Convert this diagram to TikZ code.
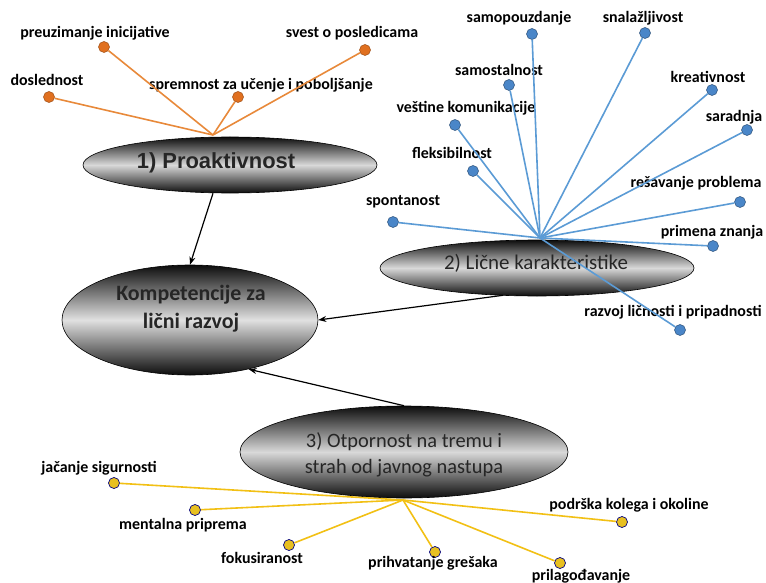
\documentclass[tikz,border=0pt]{standalone}
\usepackage{fontspec}
\setmainfont{Carlito}
\newfontfamily\arialb{Liberation Sans}
\usetikzlibrary{shapes.geometric,arrows.meta}
\definecolor{orln}{HTML}{E8893A}
\definecolor{ordot}{HTML}{E07020}
\definecolor{blln}{HTML}{5B9BD5}
\definecolor{bldot}{HTML}{4A86C8}
\definecolor{yeln}{HTML}{F2C014}
\definecolor{yedot}{HTML}{E8C020}
\tikzset{
  bigell/.style={ellipse, draw=black, line width=0.6pt, top color=black!95, bottom color=black!95, middle color=black!15, inner sep=0pt},
  lbl/.style={font=\bfseries\fontsize{16}{16}\selectfont, inner sep=0pt},
  odot/.style={circle, fill=ordot, draw=ordot!70!black, line width=0.5pt, minimum size=11bp, inner sep=0pt},
  bdot/.style={circle, fill=bldot, draw=bldot!60!black, line width=0.5pt, minimum size=11bp, inner sep=0pt},
  ydot/.style={circle, fill=yedot, draw=blue!50!black, line width=0.7pt, minimum size=11bp, inner sep=0pt},
  oline/.style={draw=orln, line width=1.6pt},
  bline/.style={draw=blln, line width=1.6pt},
  yline/.style={draw=yeln, line width=1.6pt},
  arr/.style={draw=black, line width=1.2pt, -{Stealth[length=8bp,width=6bp]}}
}
\begin{document}
\begin{tikzpicture}[x=1bp,y=-1bp]
\useasboundingbox[fill=white] (0,0) rectangle (766,583);
% big ellipses
\node[bigell, minimum width=294bp, minimum height=56bp] (pro) at (230,165) {};
\node[font=\arialb\bfseries\fontsize{22}{22}\selectfont, text=black!85] at (216,163) {1) Proaktivnost};
\node[bigell, minimum width=314bp, minimum height=56bp] (lic) at (537,268) {};
\node[font=\fontsize{21}{21}\selectfont, text=black!85] at (536,263) {2) Lične karakteristike};
\node[bigell, minimum width=256bp, minimum height=110bp, middle color=black!12] (kom) at (190,320) {};
\node[font=\bfseries\fontsize{22}{28}\selectfont, text=black!85, align=center] at (191,309) {Kompetencije za\\lični razvoj};
\node[bigell, minimum width=328bp, minimum height=92bp] (otp) at (404,452) {};
\node[font=\fontsize{20.5}{26}\selectfont, text=black!85, align=center] at (404,455) {3) Otpornost na tremu i\\strah od javnog nastupa};
% hubs
\coordinate (oh) at (213,135);
\coordinate (bh) at (540,238);
\coordinate (yh) at (403,500);
% orange leaves
\node[odot] (o1) at (104,47) {};
\node[lbl] at (95,33) {preuzimanje inicijative};
\node[odot] (o2) at (49,97) {};
\node[lbl] at (47,80) {doslednost};
\node[odot] (o3) at (238,97) {};
\node[lbl] at (261,85) {spremnost za učenje i poboljšanje};
\node[odot] (o4) at (365,50) {};
\node[lbl] at (352,33) {svest o posledicama};
\foreach \n in {o1,o2,o3,o4} \draw[oline] (oh) -- (\n);
% blue leaves
\node[bdot] (b1) at (532,34) {};
\node[lbl] at (519,18) {samopouzdanje};
\node[bdot] (b2) at (645,33) {};
\node[lbl] at (643,18) {snalažljivost};
\node[bdot] (b3) at (509,85) {};
\node[lbl] at (499,70) {samostalnost};
\node[bdot] (b4) at (712,90) {};
\node[lbl] at (708,77) {kreativnost};
\node[bdot] (b5) at (455,125) {};
\node[lbl] at (466,108) {veštine komunikacije};
\node[bdot] (b6) at (747,130) {};
\node[lbl] at (734,117) {saradnja};
\node[bdot] (b7) at (473,171) {};
\node[lbl] at (452,153) {fleksibilnost};
\node[bdot] (b8) at (740,202) {};
\node[lbl] at (696,183) {rešavanje problema};
\node[bdot] (b9) at (393,222) {};
\node[lbl] at (403,202) {spontanost};
\node[bdot] (b10) at (713,246) {};
\node[lbl] at (712,232) {primena znanja};
\node[bdot] (b11) at (680,330) {};
\node[lbl] at (673,312) {razvoj ličnosti i pripadnosti};
\foreach \n in {b1,b2,b3,b4,b5,b6,b7,b8,b9,b10,b11} \draw[bline] (bh) -- (\n);
% yellow leaves
\node[ydot] (y1) at (114,483) {};
\node[lbl] at (99,468) {jačanje sigurnosti};
\node[ydot] (y2) at (195,510) {};
\node[lbl] at (183,525) {mentalna priprema};
\node[ydot] (y3) at (289,545) {};
\node[lbl] at (262,558) {fokusiranost};
\node[ydot] (y4) at (435,552) {};
\node[lbl] at (433,563) {prihvatanje grešaka};
\node[ydot] (y5) at (560,563) {};
\node[lbl] at (581,576) {prilagođavanje};
\node[ydot] (y6) at (622,522) {};
\node[lbl] at (629,505) {podrška kolega i okoline};
\foreach \n in {y1,y2,y3,y4,y5,y6} \draw[yline] (yh) -- (\n);
% arrows
\draw[arr] (pro.south) ++(-17,0) coordinate (ps) -- (kom.north);
\draw[arr] (lic.south) ++(-34,-1) coordinate (ls) -- (kom.east);
\draw[arr] (otp.north) -- (kom.-40);
\end{tikzpicture}
\end{document}
